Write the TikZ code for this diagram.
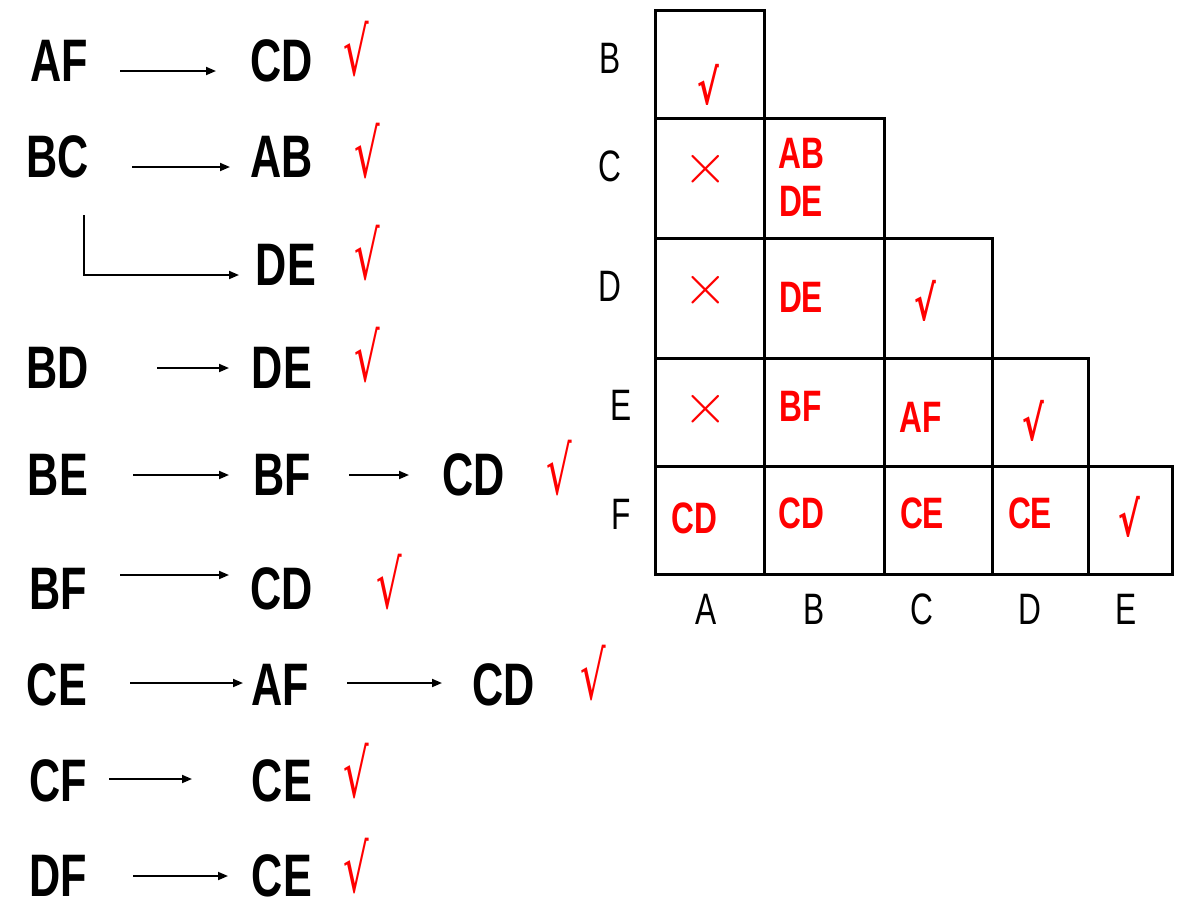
\documentclass[tikz,border=0pt]{standalone}
\usepackage{fontspec}
\usetikzlibrary{arrows.meta}
\newfontfamily\cnd[FakeStretch=0.72]{Liberation Sans}
\newfontfamily\ckf[FakeStretch=0.6]{DejaVu Sans}
\newfontfamily\ckfb[FakeStretch=0.68]{DejaVu Sans}
\definecolor{rd}{RGB}{255,0,0}
\newcommand{\xmark}{\scalebox{2.3}{$\times$}}
\begin{document}
\begin{tikzpicture}[x=1pt,y=-1pt,
  big/.style={inner sep=0pt, font=\cnd\bfseries\fontsize{60}{60}\selectfont},
  axl/.style={inner sep=0pt, font=\cnd\fontsize{44}{44}\selectfont},
  cell/.style={inner sep=0pt, text=rd, font=\cnd\bfseries\fontsize{44}{44}\selectfont},
  ok/.style={inner sep=0pt, text=rd, font=\ckf\fontsize{67}{67}\selectfont},
  okc/.style={inner sep=0pt, text=rd, font=\ckfb\bfseries\fontsize{48}{48}\selectfont},
  no/.style={inner sep=0pt, text=rd, font=\fontsize{24.88}{25}\selectfont},
  arr/.style={line width=1.8pt, -{Triangle[length=10pt,width=8pt]}},
  gridline/.style={line width=3pt, line cap=rect}]
\useasboundingbox (0,0) rectangle (1179,922);
% ---------- left list ----------
\node[big] (af)  at (59,61) {AF};
\node[big] (cd1) at (282,61) {CD};
\node[ok]  (k1)  at (356,49) {√};
\draw[arr, shorten <=61pt, shorten >=66pt] ([yshift=-10pt]af.center) -- ([yshift=-10pt]cd1.center);

\node[big] (bc)  at (58,157) {BC};
\node[big] (ab1) at (282,157) {AB};
\node[ok]  (k2)  at (367,151) {√};
\draw[arr, shorten <=74pt, shorten >=52pt] ([yshift=-10pt]bc.center) -- ([yshift=-10pt]ab1.center);

\node[big] (de1) at (286,265) {DE};
\node[ok]  (k3)  at (367,253) {√};
\draw[arr] ([xshift=26pt,yshift=-58pt]bc.center) |- ([xshift=-47pt,yshift=-10pt]de1.center);

\node[big] (bd)  at (58,368) {BD};
\node[big] (de2) at (282,368) {DE};
\node[ok]  (k4)  at (367,355) {√};
\draw[arr, shorten <=99pt, shorten >=53pt] (bd.center) -- (de2.center);

\node[big] (be)  at (58,475) {BE};
\node[big] (bf1) at (282,475) {BF};
\node[big] (cd2) at (474,475) {CD};
\node[ok]  (k5)  at (559,468) {√};
\draw[arr, shorten <=75pt, shorten >=53pt] (be.center) -- (bf1.center);
\draw[arr, shorten <=67pt, shorten >=65pt] (bf1.center) -- (cd2.center);

\node[big] (bf2) at (58,589) {BF};
\node[big] (cd3) at (282,589) {CD};
\node[ok]  (k6)  at (389,582) {√};
\draw[arr, shorten <=62pt, shorten >=53pt] ([yshift=14pt]bf2.center) -- ([yshift=14pt]cd3.center);

\node[big] (ce1) at (57,685) {CE};
\node[big] (af2) at (280,685) {AF};
\node[big] (cd4) at (504,685) {CD};
\node[ok]  (k7)  at (593,673) {√};
\draw[arr, shorten <=73pt, shorten >=37pt] ([yshift=2pt]ce1.center) -- ([yshift=2pt]af2.center);
\draw[arr, shorten <=67pt, shorten >=62pt] ([yshift=2pt]af2.center) -- ([yshift=2pt]cd4.center);

\node[big] (cf)  at (58,781) {CF};
\node[big] (ce2) at (282,781) {CE};
\node[ok]  (k8)  at (356,771) {√};
\draw[arr, shorten <=51pt, shorten >=90pt] ([yshift=2pt]cf.center) -- ([yshift=2pt]ce2.center);

\node[big] (df)  at (58,876) {DF};
\node[big] (ce3) at (282,876) {CE};
\node[ok]  (k9)  at (356,866) {√};
\draw[arr, shorten <=75pt, shorten >=54pt] (df.center) -- (ce3.center);

% ---------- triangular table ----------
\foreach \ya/\yb/\n in {10/118/1,118/238/2,238/358/3,358/466/4,466/574/5}{
  \foreach \xa/\xb [count=\j] in {655/764,764/884,884/992,992/1088,1088/1172}{
    \ifnum\j>\n\relax\else
      \draw[gridline] (\xa,\ya) rectangle (\xb,\yb);
    \fi
  }
}
% row labels
\node[axl] (rB) at (610,58)  {B};
\node[axl] (rC) at (610,166) {C};
\node[axl] (rD) at (610,286) {D};
\node[axl] (rE) at (621,405) {E};
\node[axl] (rF) at (621,514) {F};
% column labels
\node[axl] (cA) at (706,609)  {A};
\node[axl] (cB) at (814,609)  {B};
\node[axl] (cC) at (922,609)  {C};
\node[axl] (cD) at (1030,609) {D};
\node[axl] (cE) at (1126,609) {E};
% cell contents
\node[okc] (tBA) at (708,85) {√};
\node[no]  (tCA) at (706,169) {\xmark};
\node[cell] (tCB1) at (801,153) {AB};
\node[cell] (tCB2) at (801,201) {DE};
\node[no]  (tDA) at (706,290) {\xmark};
\node[cell] (tDB) at (801,297) {DE};
\node[okc] (tDC) at (925,301) {√};
\node[no]  (tEA) at (706,409) {\xmark};
\node[cell] (tEB) at (801,406) {BF};
\node[cell] (tEC) at (921,417) {AF};
\node[okc] (tED) at (1033,421) {√};
\node[cell] (tFA) at (694,518) {CD};
\node[cell] (tFB) at (801,513) {CD};
\node[cell] (tFC) at (922,513) {CE};
\node[cell] (tFD) at (1030,513) {CE};
\node[okc] (tFE) at (1129,517) {√};
\end{tikzpicture}
\end{document}
